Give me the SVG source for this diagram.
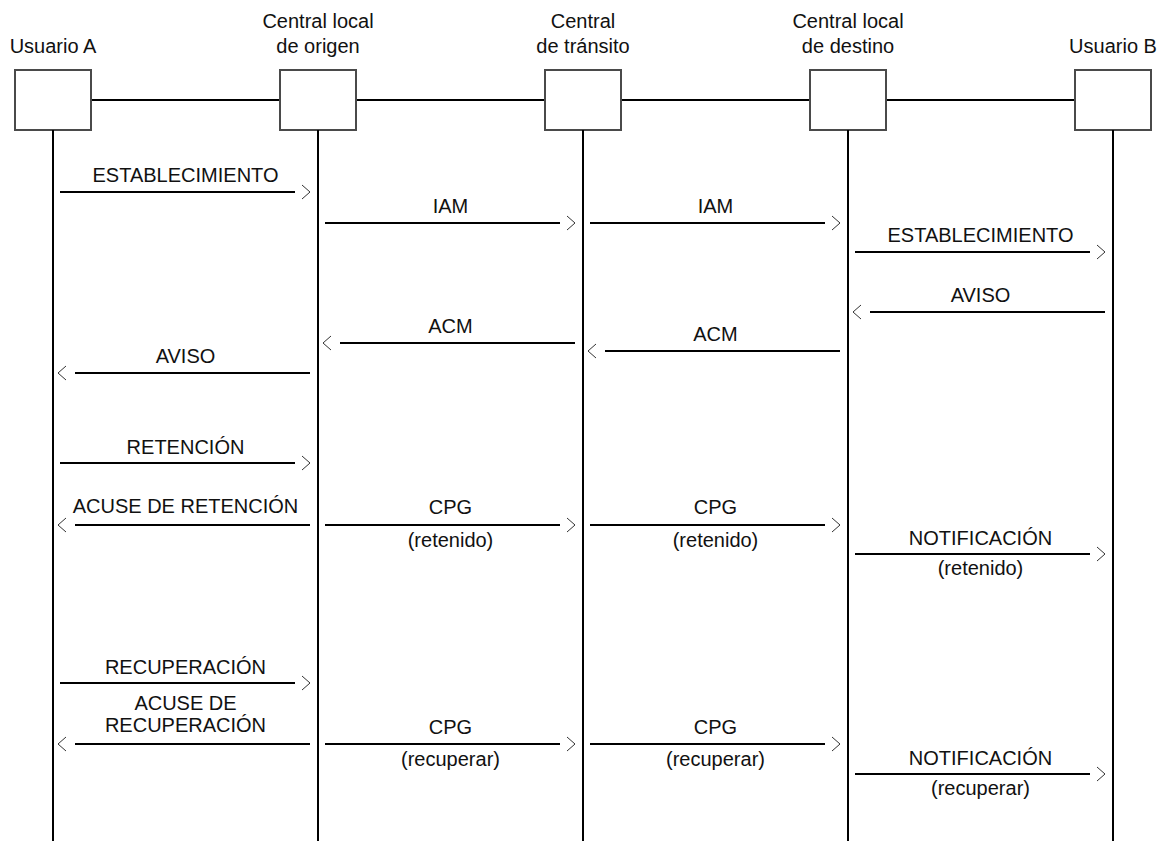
<svg xmlns="http://www.w3.org/2000/svg" xmlns:xlink="http://www.w3.org/1999/xlink" width="1166" height="841" viewBox="0 0 1166 841">
<style>
text{font-family:"Liberation Sans",Arial,sans-serif;font-size:20px;fill:#111;text-anchor:middle}
.box{fill:#fff;stroke:#4a4a4a;stroke-width:2}
.link{stroke:#000;stroke-width:2;fill:none}
.life{stroke:#000;stroke-width:2;fill:none}
.msg{stroke:#000;stroke-width:2;fill:none}
.chev{stroke:#333;stroke-width:1;fill:none}
</style>
<defs>
<path id="cr" class="chev" d="M-8,-7 L0,0 L-8,7"/>
<path id="cl" class="chev" d="M8,-7 L0,0 L8,7"/>
</defs>
<g id="links">
<line class="link" x1="91" y1="100" x2="280" y2="100"/>
<line class="link" x1="356" y1="100" x2="545" y2="100"/>
<line class="link" x1="621" y1="100" x2="810" y2="100"/>
<line class="link" x1="886" y1="100" x2="1075" y2="100"/>
</g>
<g id="usuarioA">
<text x="53" y="53">Usuario A</text>
<rect class="box" x="15" y="70" width="76" height="60"/>
<line class="life" x1="53" y1="130" x2="53" y2="841"/>
</g>
<g id="centralOrigen">
<text x="318" y="28">Central local</text>
<text x="318" y="53">de origen</text>
<rect class="box" x="280" y="70" width="76" height="60"/>
<line class="life" x1="318" y1="130" x2="318" y2="841"/>
</g>
<g id="centralTransito">
<text x="583" y="28">Central</text>
<text x="583" y="53">de tránsito</text>
<rect class="box" x="545" y="70" width="76" height="60"/>
<line class="life" x1="583" y1="130" x2="583" y2="841"/>
</g>
<g id="centralDestino">
<text x="848" y="28">Central local</text>
<text x="848" y="53">de destino</text>
<rect class="box" x="810" y="70" width="76" height="60"/>
<line class="life" x1="848" y1="130" x2="848" y2="841"/>
</g>
<g id="usuarioB">
<text x="1113" y="53">Usuario B</text>
<rect class="box" x="1075" y="70" width="76" height="60"/>
<line class="life" x1="1113" y1="130" x2="1113" y2="841"/>
</g>
<g id="connectors">
<!-- 1 -->
<line class="msg" x1="60" y1="192" x2="295" y2="192"/><use xlink:href="#cr" x="310" y="192"/>
<text x="185.5" y="182">ESTABLECIMIENTO</text>
<!-- 2,3 IAM -->
<line class="msg" x1="325" y1="223" x2="560" y2="223"/><use xlink:href="#cr" x="575" y="223"/>
<text x="450.5" y="213">IAM</text>
<line class="msg" x1="590" y1="223" x2="825" y2="223"/><use xlink:href="#cr" x="840" y="223"/>
<text x="715.5" y="213">IAM</text>
<!-- 4 -->
<line class="msg" x1="855" y1="252" x2="1090" y2="252"/><use xlink:href="#cr" x="1105" y="252"/>
<text x="980.5" y="242">ESTABLECIMIENTO</text>
<!-- 5 AVISO B->CLD -->
<use xlink:href="#cl" x="853" y="312"/><line class="msg" x1="870" y1="312" x2="1105" y2="312"/>
<text x="980.5" y="302">AVISO</text>
<!-- 6,7 ACM -->
<use xlink:href="#cl" x="323" y="343"/><line class="msg" x1="340" y1="343" x2="575" y2="343"/>
<text x="450.5" y="333">ACM</text>
<use xlink:href="#cl" x="588" y="351"/><line class="msg" x1="605" y1="351" x2="840" y2="351"/>
<text x="715.5" y="341">ACM</text>
<!-- 8 AVISO -->
<use xlink:href="#cl" x="58" y="373"/><line class="msg" x1="75" y1="373" x2="310" y2="373"/>
<text x="185.5" y="363">AVISO</text>
<!-- 9 RETENCION -->
<line class="msg" x1="60" y1="463" x2="295" y2="463"/><use xlink:href="#cr" x="310" y="463"/>
<text x="185.5" y="454">RETENCIÓN</text>
<!-- 10 -->
<use xlink:href="#cl" x="58" y="525"/><line class="msg" x1="75" y1="525" x2="310" y2="525"/>
<text x="185.5" y="513">ACUSE DE RETENCIÓN</text>
<!-- 11,12 CPG retenido -->
<line class="msg" x1="325" y1="525" x2="560" y2="525"/><use xlink:href="#cr" x="575" y="525"/>
<text x="450.5" y="514">CPG</text><text x="450.5" y="547">(retenido)</text>
<line class="msg" x1="590" y1="525" x2="825" y2="525"/><use xlink:href="#cr" x="840" y="525"/>
<text x="715.5" y="514">CPG</text><text x="715.5" y="547">(retenido)</text>
<!-- 13 -->
<line class="msg" x1="855" y1="554" x2="1090" y2="554"/><use xlink:href="#cr" x="1105" y="554"/>
<text x="980.5" y="545">NOTIFICACIÓN</text><text x="980.5" y="575">(retenido)</text>
<!-- 14 -->
<line class="msg" x1="60" y1="683" x2="295" y2="683"/><use xlink:href="#cr" x="310" y="683"/>
<text x="185.5" y="674">RECUPERACIÓN</text>
<!-- 15 -->
<use xlink:href="#cl" x="58" y="744"/><line class="msg" x1="75" y1="744" x2="310" y2="744"/>
<text x="185.5" y="710">ACUSE DE</text>
<text x="185.5" y="732">RECUPERACIÓN</text>
<!-- 16,17 -->
<line class="msg" x1="325" y1="744" x2="560" y2="744"/><use xlink:href="#cr" x="575" y="744"/>
<text x="450.5" y="734">CPG</text><text x="450.5" y="766">(recuperar)</text>
<line class="msg" x1="590" y1="744" x2="825" y2="744"/><use xlink:href="#cr" x="840" y="744"/>
<text x="715.5" y="734">CPG</text><text x="715.5" y="766">(recuperar)</text>
<!-- 18 -->
<line class="msg" x1="855" y1="774" x2="1090" y2="774"/><use xlink:href="#cr" x="1105" y="774"/>
<text x="980.5" y="765">NOTIFICACIÓN</text><text x="980.5" y="795">(recuperar)</text>
</g>
</svg>
